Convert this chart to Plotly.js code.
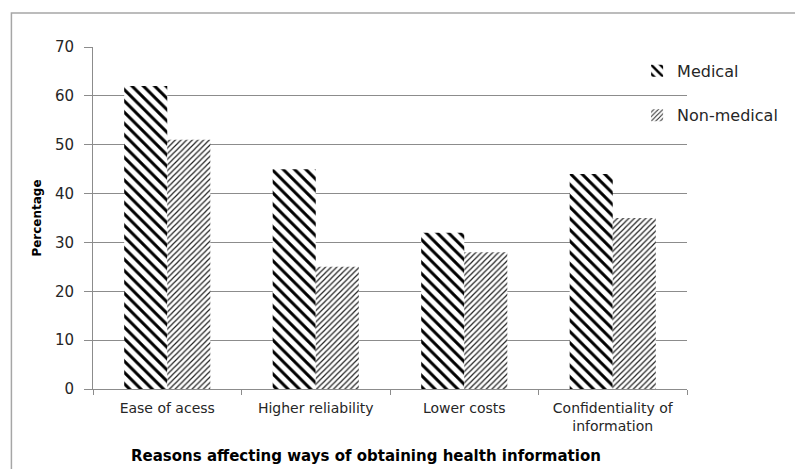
<!DOCTYPE html>
<html>
<head>
<meta charset="utf-8">
<script src="https://cdn.plot.ly/plotly-3.0.1.min.js"></script>
<style>html,body{margin:0;padding:0;background:#fff;}#chart{width:795px;height:469px;}</style>
</head>
<body>
<div id="chart"></div>
<script>
const categories = ["Ease of acess", "Higher reliability", "Lower costs", "Confidentiality of<br>information"];
const medical = [62, 45, 32, 44];
const nonMedical = [51, 25, 28, 35];
const yTicks = [0, 10, 20, 30, 40, 50, 60, 70];

const FONT = "DejaVu Sans, Verdana, sans-serif";
const traces = [
  {
    type: "bar", name: "Medical", x: categories, y: medical,
    marker: {color: "white", line: {width: 0},
      pattern: {shape: "\\", fgcolor: "black", bgcolor: "white", size: 8, solidity: 0.38}},
    legend: "legend"
  },
  {
    type: "bar", name: "Non-medical", x: categories, y: nonMedical,
    marker: {color: "white", line: {width: 0},
      pattern: {shape: "/", fgcolor: "#222", bgcolor: "white", size: 4, solidity: 0.3}},
    legend: "legend2"
  }
];

const layout = {
  width: 795, height: 469,
  margin: {l: 93, r: 105, t: 47, b: 80},
  paper_bgcolor: "white", plot_bgcolor: "white",
  barmode: "group", bargap: 0.42, bargroupgap: 0,
  font: {family: FONT, color: "#262626", size: 13},
  xaxis: {
    type: "category", showgrid: false, showline: true, linecolor: "#8c8c8c", linewidth: 1,
    ticks: "outside", tickson: "boundaries", ticklen: 5, tickcolor: "#8c8c8c",
    tickfont: {size: 14, family: FONT}, zeroline: false, ticklabelstandoff: 6, automargin: false
  },
  yaxis: {
    range: [0, 70], tickvals: yTicks, showgrid: true, gridcolor: "#8c8c8c", gridwidth: 1,
    showline: true, linecolor: "#8c8c8c", ticks: "outside", ticklen: 8, tickcolor: "#8c8c8c",
    tickfont: {size: 15, family: FONT}, zeroline: false, ticklabelstandoff: 7, automargin: false,
    title: {text: "<b>Percentage</b>", font: {size: 12, family: FONT, color: "#000"}, standoff: 10}
  },
  showlegend: true,
  legend: {x: 0.916, xanchor: "left", y: 0.98, yanchor: "top", bgcolor: "rgba(0,0,0,0)",
    font: {size: 16, family: FONT}},
  legend2: {x: 0.916, xanchor: "left", y: 0.85, yanchor: "top", bgcolor: "rgba(0,0,0,0)",
    font: {size: 16, family: FONT}},
  annotations: [{
    text: "<b>Reasons affecting ways of obtaining health information</b>",
    xref: "paper", yref: "paper", x: (367 - 93) / 597, y: -(456 - 389) / 342,
    xanchor: "center", yanchor: "middle", showarrow: false,
    font: {size: 15, family: FONT, color: "#000"}
  }],
  shapes: [{
    type: "rect", xref: "paper", yref: "paper",
    x0: (11 - 93) / 597, x1: 1.3, y0: -0.4, y1: (389 - 13) / 342,
    line: {color: "#a6a6a6", width: 1.5}, fillcolor: "rgba(0,0,0,0)", layer: "below"
  }]
};

Plotly.newPlot("chart", traces, layout, {displayModeBar: false, staticPlot: true});
</script>
</body>
</html>
